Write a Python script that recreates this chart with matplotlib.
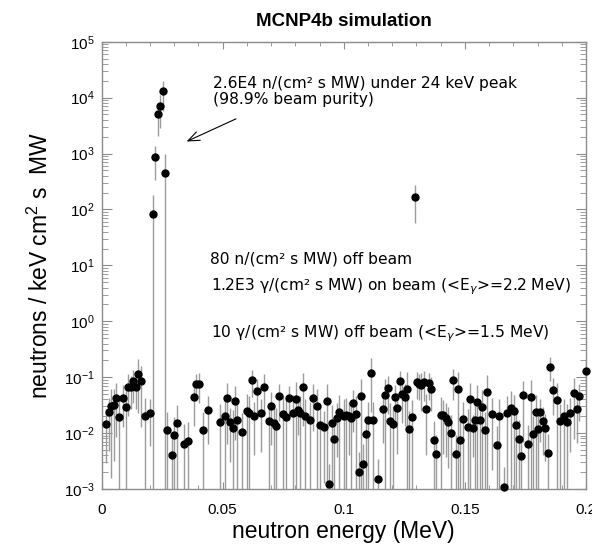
import numpy as np
import matplotlib
matplotlib.use("Agg")
import matplotlib.pyplot as plt
from matplotlib.ticker import FixedLocator, FixedFormatter, LogLocator, NullFormatter

plt.rcParams['font.family'] = ['Liberation Sans', 'DejaVu Sans']
plt.rcParams['mathtext.fontset'] = 'dejavusans'

# ---- data ----
energy = [
    0.0020, 0.0031, 0.0041, 0.0052, 0.0061, 0.0071, 0.0090, 0.0101, 0.0109, 0.0120,
    0.0131, 0.0141, 0.0151, 0.0162, 0.0181, 0.0201,
    0.0211, 0.0221, 0.0232, 0.0241, 0.0252, 0.0261,
    0.0271, 0.0291, 0.0300, 0.0311, 0.0340, 0.0359, 0.0380, 0.0390, 0.0403, 0.0420,
    0.0441, 0.0490, 0.0511, 0.0520, 0.0530, 0.0541, 0.0551, 0.0560, 0.0581, 0.0600,
    0.0610, 0.0621, 0.0630, 0.0640, 0.0660, 0.0670, 0.0691, 0.0700, 0.0711, 0.0721,
    0.0731, 0.0751, 0.0761, 0.0772, 0.0790, 0.0802, 0.0810, 0.0820, 0.0831, 0.0841,
    0.0861, 0.0871, 0.0891, 0.0901, 0.0920, 0.0931, 0.0941, 0.0951, 0.0960, 0.0970,
    0.0981, 0.1000, 0.1011, 0.1020, 0.1030, 0.1040, 0.1051, 0.1062, 0.1071, 0.1081,
    0.1091, 0.1100, 0.1111, 0.1121, 0.1142, 0.1161, 0.1170, 0.1181, 0.1191, 0.1202,
    0.1212, 0.1221, 0.1231, 0.1242, 0.1252, 0.1261, 0.1271, 0.1282, 0.1292, 0.1301,
    0.1311, 0.1320, 0.1331, 0.1341, 0.1352, 0.1362, 0.1371, 0.1382, 0.1401, 0.1411,
    0.1422, 0.1432, 0.1441, 0.1451, 0.1462, 0.1471, 0.1481, 0.1491, 0.1511, 0.1521,
    0.1532, 0.1542, 0.1551, 0.1561, 0.1572, 0.1581, 0.1591, 0.1612, 0.1632, 0.1642,
    0.1663, 0.1672, 0.1691, 0.1702, 0.1712, 0.1722, 0.1731, 0.1741, 0.1762, 0.1771,
    0.1781, 0.1792, 0.1801, 0.1811, 0.1822, 0.1832, 0.1841, 0.1852, 0.1862, 0.1881,
    0.1892, 0.1911, 0.1922, 0.1932, 0.1951, 0.1961, 0.1972, 0.2000,
]
flux = [
    0.0147, 0.0238, 0.031, 0.032, 0.043, 0.0193, 0.043, 0.0296, 0.066, 0.066,
    0.085, 0.066, 0.115, 0.087, 0.0204, 0.0231,
    83, 850, 5100, 7100, 13000, 450,
    0.0112, 0.0040, 0.0092, 0.0151, 0.0065, 0.0071, 0.0446, 0.076, 0.076, 0.0115,
    0.0258, 0.0160, 0.0204, 0.042, 0.0155, 0.0123, 0.038, 0.0171, 0.0104, 0.0248,
    0.0225, 0.0885, 0.0199, 0.057, 0.0225, 0.066, 0.0164, 0.0304, 0.0149, 0.0135,
    0.0465, 0.0222, 0.0191, 0.043, 0.0231, 0.0405, 0.0261, 0.0225, 0.066, 0.0199,
    0.0169, 0.043, 0.0304, 0.0137, 0.0128, 0.0373, 0.00123, 0.0149, 0.0077, 0.0188,
    0.0241, 0.0201, 0.0207, 0.0201, 0.0188, 0.0349, 0.0222, 0.0020, 0.0465, 0.0028,
    0.0095, 0.0173, 0.120, 0.0173, 0.0015, 0.0269, 0.047, 0.063, 0.0164, 0.0147,
    0.0446, 0.0276, 0.085, 0.0505, 0.044, 0.062, 0.0118, 0.0193, 164, 0.0826,
    0.077, 0.072, 0.0826, 0.0265, 0.079, 0.062, 0.0074, 0.0042, 0.0213, 0.0213,
    0.0188, 0.0155, 0.0102, 0.0885, 0.0042, 0.061, 0.0074, 0.0176, 0.0126, 0.040,
    0.0125, 0.0173, 0.0363, 0.0173, 0.0296, 0.0112, 0.0548, 0.0219, 0.0062, 0.0201,
    0.00109, 0.0231, 0.0284, 0.0244, 0.0141, 0.0078, 0.0039, 0.047, 0.0063, 0.044,
    0.0098, 0.0238, 0.0120, 0.0235, 0.0164, 0.0125, 0.0044, 0.155, 0.059, 0.0394,
    0.0162, 0.0199, 0.016, 0.0231, 0.052, 0.0265, 0.0465, 0.128,
]
rel_err = [
    0.8, 0.8, 0.95, 0.9, 0.8, 1.2, 0.7, 1.0, 0.7, 0.6,
    0.6, 0.6, 0.8, 0.85, 1.1, 0.75,
    1.2, 0.6, 0.6, 0.6, 0.55, 1.2,
    1.1, 1.2, 1.1, 1.1, 1.2, 1.2, 0.7, 0.5, 0.55, 1.1,
    0.75, 1.1, 1.1, 0.85, 0.8, 1.1, 0.8, 1.1, 1.2, 1.05,
    1.05, 0.5, 0.8, 0.6, 0.8, 0.7, 1.1, 0.8, 1.1, 1.1,
    0.65, 1.05, 1.05, 0.6, 1.05, 1.0, 0.65, 1.05, 0.8, 1.05,
    1.1, 0.75, 1.0, 1.1, 0.9, 1.0, 1.3, 1.1, 1.2, 0.8,
    1.0, 1.05, 1.05, 0.8, 1.05, 0.7, 1.05, 1.3, 1.0, 1.3,
    1.1, 1.05, 0.8, 1.1, 1.3, 0.75, 1.0, 0.65, 1.1, 1.1,
    0.65, 0.85, 0.5, 0.7, 0.7, 1.0, 1.1, 1.0, 0.65, 0.5,
    0.5, 0.65, 0.55, 0.85, 0.5, 0.6, 1.2, 1.2, 1.05, 0.8,
    0.8, 0.85, 1.1, 0.55, 1.2, 1.0, 1.2, 1.05, 1.1, 1.0,
    0.7, 1.05, 1.0, 1.05, 1.0, 1.1, 1.0, 0.9, 1.2, 1.05,
    1.3, 1.0, 1.0, 1.0, 1.1, 1.2, 1.2, 0.85, 1.2, 1.0,
    1.1, 1.0, 1.1, 0.7, 0.75, 0.75, 1.2, 0.45, 0.65, 1.0,
    1.05, 1.05, 1.05, 0.8, 0.85, 0.75, 0.65, 0.6,
]

x_ticks = [0, 0.05, 0.1, 0.15, 0.2]
x_ticklabels = ['0', '0.05', '0.1', '0.15', '0.2']
y_exponents = [-3, -2, -1, 0, 1, 2, 3, 4, 5]

# ---- figure ----
fig = plt.figure(figsize=(5.92, 5.48), dpi=100)
ax = fig.add_axes([0.1715, 0.1077, 0.8184, 0.8162])

E = np.array(energy)
F = np.array(flux)
err = np.array(rel_err) * F
# a lower error reaching zero or below runs off the bottom of the log axis
lo = np.where(err >= F, F - 1e-6, err)
hi = err

ax.errorbar(E, F, yerr=[lo, hi], fmt='none', ecolor='#9c9c9c',
            elinewidth=1.0, capsize=0, zorder=2)
ax.plot(E, F, 'o', color='black', ms=5.0, zorder=3, clip_on=False)

ax.set_yscale('log')
ax.set_xlim(0, 0.2)
ax.set_ylim(1e-3, 1e5)

ax.xaxis.set_major_locator(FixedLocator(x_ticks))
ax.xaxis.set_major_formatter(FixedFormatter(x_ticklabels))
ax.xaxis.set_minor_locator(FixedLocator(np.arange(0, 0.2001, 0.01)))
ax.yaxis.set_major_locator(FixedLocator([10.0 ** e for e in y_exponents]))
ax.yaxis.set_major_formatter(FixedFormatter(
    [r'$\mathregular{10^{%d}}$' % e for e in y_exponents]))
ax.yaxis.set_minor_locator(LogLocator(base=10, subs=np.arange(2, 10), numticks=20))
ax.yaxis.set_minor_formatter(NullFormatter())

ax.tick_params(which='both', direction='in', top=True, right=True,
               color='#8c8c8c', labelsize=11, labelcolor='black')
ax.tick_params(axis='x', which='major', length=5, pad=10)
ax.tick_params(axis='x', which='minor', length=3)
ax.tick_params(axis='y', which='major', length=7, pad=5)
ax.tick_params(axis='y', which='minor', length=4)
for s in ax.spines.values():
    s.set_color('#8c8c8c')
    s.set_linewidth(1.0)

ax.set_xlabel('neutron energy (MeV)', fontsize=16.5, labelpad=2)
ax.set_ylabel(r'neutrons / keV cm$\mathregular{^2}$ s  MW', fontsize=16.5, labelpad=8)
ax.set_title('MCNP4b simulation', fontsize=13.5, fontweight='bold', pad=11)

tf = dict(family=['DejaVu Sans'], fontsize=11.2, transform=ax.transAxes,
          va='baseline', ha='left')
ax.text(0.230, 0.8965, '2.6E4 n/(cm² s MW) under 24 keV peak', **tf)
ax.text(0.230, 0.8600, '(98.9% beam purity)', **tf)
ax.text(0.224, 0.5030, '80 n/(cm² s MW) off beam', **tf)
ax.text(0.2254, 0.4449, r'1.2E3 γ/(cm² s MW) on beam (<E$_\gamma$>=2.2 MeV)', **tf)
ax.text(0.2254, 0.3400, r'10 γ/(cm² s MW) off beam (<E$_\gamma$>=1.5 MeV)', **tf)

ax.annotate('', xy=(0.0351, 1640), xytext=(0.0555, 4170),
            arrowprops=dict(arrowstyle='->,head_length=0.55,head_width=0.22',
                            color='black', lw=0.8, mutation_scale=15,
                            shrinkA=0, shrinkB=0))

fig.savefig('out.png', dpi=100)
